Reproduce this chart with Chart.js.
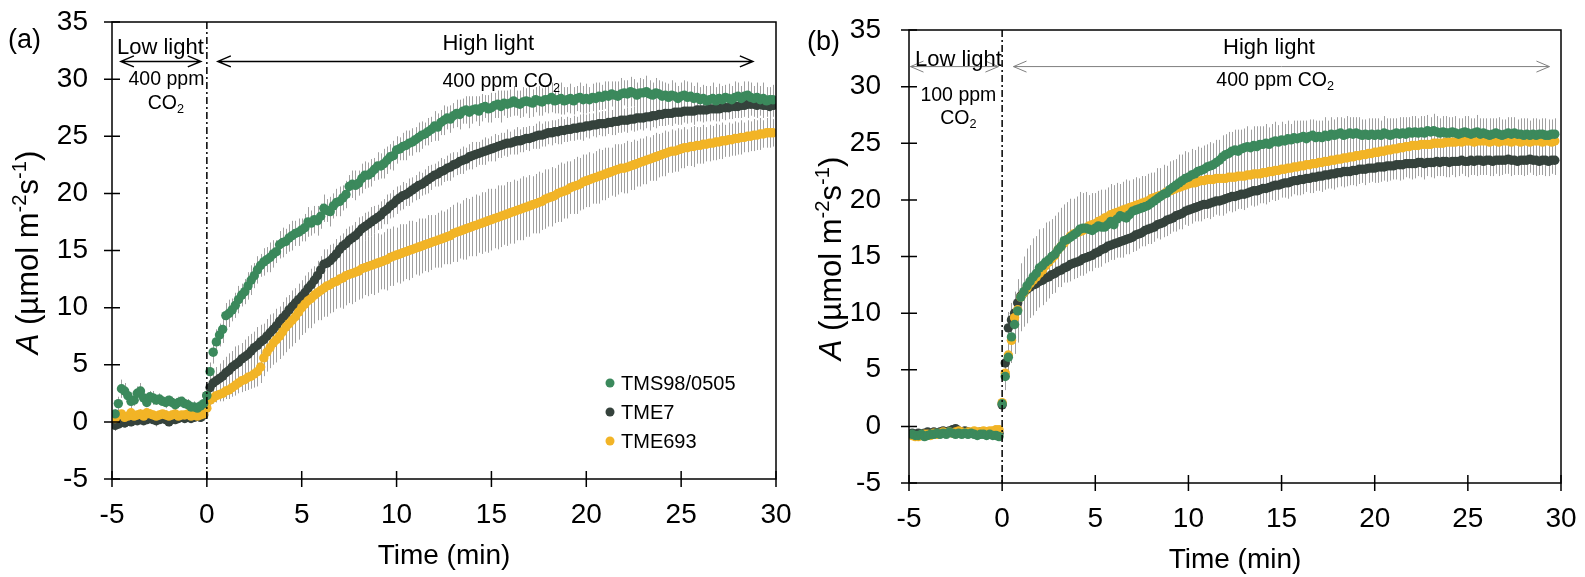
<!DOCTYPE html>
<html>
<head>
<meta charset="utf-8">
<script src="https://cdn.jsdelivr.net/npm/chart.js@4.4.0/dist/chart.umd.min.js"></script>
<style>
html,body{margin:0;padding:0;background:#fff;}
#marco{position:relative;width:1585px;height:577px;}
.panel{position:absolute;top:0;height:577px;}
#pa{left:0;width:792px;}
#pb{left:792px;width:793px;}
</style>
</head>
<body>
<div id="marco">
  <div class="panel" id="pa"><canvas id="graficaA" width="792" height="577"></canvas></div>
  <div class="panel" id="pb"><canvas id="graficaB" width="793" height="577"></canvas></div>
</div>
<script>
// lecturas cada 10 s, la primera 290 s antes del cambio a luz alta
var PASO = 1/6;
var INICIO = -29/6;

var nombres = ['TMS98/0505', 'TME7', 'TME693'];
var colores = ['#3b895c', '#35423c', '#f2b426'];
var ticksX = [-5, 0, 5, 10, 15, 20, 25, 30];
var ticksY = [-5, 0, 5, 10, 15, 20, 25, 30, 35];

/* (a) 400 ppm CO2 en luz baja */
var verdeA = [0.7,1.6,2.9,2.7,2.3,1.8,1.9,2.5,2.7,2.1,1.7,2.2,2.1,1.9,2.0,1.8,1.7,1.9,1.7,1.5,1.7,1.8,1.6,1.5,1.3,1.3,1.2,1.4,1.6,
 2.3,4.4,6.1,7.0,7.6,8.1, 9.3,9.5,9.8,10.2,10.7,11.1, 11.4,11.9,12.4,12.8,13.3,13.7, 14.0,14.2,14.4,14.7,14.9,15.5,
 15.7,15.8,16.1,16.3,16.5,16.6, 16.8,17.0,17.5,17.4,17.7,17.6, 18.0,18.7,18.5,18.4,18.9,19.2, 19.3,19.6,19.9,20.6,20.8,20.7,
 20.9,21.3,21.6,21.6,21.8,22.1, 22.4,22.4,22.6,22.9,23.2,23.3, 23.8,23.9,24.1,24.2,24.4,24.5, 24.7,24.9,25.1,25.2,25.4,25.6,
 25.9,25.8,26.2,26.4,26.6,26.5, 26.8,27.0,26.9,27.2,27.3,27.1, 27.3,27.4,27.2,27.5,27.6,27.4, 27.5,27.7,27.8,27.6,27.9,27.8,
 27.9,28.1,27.9,27.8,28.0,28.1, 28.0,27.9,28.2,28.1,28.0,28.2, 28.2,28.4,28.1,28.2,28.3,28.1, 28.2,28.3,28.1,28.3,28.4,28.2,
 28.3,28.2,28.4,28.3,28.5,28.4, 28.6,28.5,28.7,28.6,28.5,28.7, 28.8,28.7,28.9,28.8,28.6,28.8, 28.8,28.9,28.7,28.6,28.8,28.7,
 28.5,28.6,28.4,28.6,28.5,28.3, 28.5,28.6,28.4,28.5,28.3,28.4, 28.2,28.3,28.1,28.2,28.3,28.1, 28.3,28.2,28.4,28.3,28.2,28.4,
 28.5,28.3,28.5,28.6,28.4,28.3, 28.4,28.2,28.3,28.1,28.2,28.2];
var oscuroA = [-0.3,-0.2,0.0,-0.1,0.1,0.0,0.2,0.1,0.2,0.1,0.2,0.3,0.2,0.1,0.2,0.3,0.2,0.0,0.3,0.2,0.3,0.4,0.3,0.4,0.3,0.4,0.5,0.4,0.6,
 2.3,3.0,3.4,3.6,3.8,4.0, 4.3,4.5,4.8,5.0,5.2,5.5, 5.7,5.9,6.2,6.5,6.7,7.0, 7.2,7.5,7.8,8.1,8.4,8.8,
 9.1,9.4,9.8,10.1,10.4,10.7, 11.0,11.3,11.7,12.0,12.4,12.8, 13.3,13.8,13.9,14.1,14.4,14.7, 15.1,15.4,15.6,15.9,16.1,16.3,
 16.6,16.9,17.1,17.3,17.5,17.7, 17.9,18.1,18.4,18.6,18.9,19.1, 19.4,19.6,19.8,19.9,20.1,20.3, 20.5,20.7,20.8,21.0,21.2,21.4,
 21.6,21.7,21.9,22.0,22.2,22.3, 22.5,22.6,22.8,22.9,23.0,23.2, 23.3,23.4,23.5,23.6,23.7,23.8, 23.9,24.0,24.1,24.2,24.3,24.4,
 24.4,24.5,24.6,24.6,24.7,24.8, 24.8,24.9,25.0,25.1,25.1,25.2, 25.3,25.3,25.4,25.4,25.5,25.5, 25.6,25.6,25.7,25.7,25.8,25.8,
 25.9,25.9,26.0,26.0,26.1,26.1, 26.1,26.2,26.2,26.3,26.3,26.4, 26.4,26.4,26.5,26.5,26.6,26.6, 26.6,26.7,26.7,26.8,26.8,26.9,
 26.9,27.0,27.0,27.0,27.1,27.1, 27.1,27.2,27.2,27.2,27.2,27.3, 27.3,27.3,27.3,27.4,27.4,27.4, 27.4,27.5,27.5,27.5,27.6,27.6,
 27.6,27.7,27.7,27.8,27.8,27.8, 27.7,27.8,27.7,27.7,27.6,27.7];
var amarilloA = [0.3,0.6,0.7,0.4,0.5,0.8,0.5,0.6,0.7,0.5,0.8,0.7,0.6,0.5,0.6,0.7,0.6,0.5,0.6,0.7,0.5,0.6,0.6,0.7,0.5,0.6,0.5,0.6,0.7,
 1.2,1.9,2.1,2.3,2.4,2.5, 2.7,2.8,3.0,3.2,3.4,3.6, 3.7,3.9,4.0,4.2,4.4,4.8, 5.6,6.1,6.5,6.9,7.2,7.5,
 7.9,8.3,8.6,8.9,9.2,9.6, 10.0,10.3,10.6,10.8,11.1,11.3, 11.5,11.7,11.9,12.0,12.2,12.3, 12.5,12.6,12.8,12.9,13.0,13.1,
 13.2,13.4,13.5,13.6,13.7,13.8, 13.9,14.0,14.1,14.2,14.4,14.5, 14.6,14.7,14.8,14.9,15.0,15.1, 15.2,15.3,15.4,15.5,15.6,15.7,
 15.8,15.9,16.0,16.1,16.2,16.3, 16.5,16.6,16.7,16.8,16.9,17.0, 17.1,17.2,17.3,17.4,17.5,17.6, 17.7,17.8,17.9,18.0,18.1,18.2,
 18.3,18.4,18.5,18.6,18.7,18.8, 18.9,19.0,19.1,19.2,19.3,19.5, 19.6,19.7,19.8,20.0,20.1,20.2, 20.3,20.5,20.6,20.7,20.8,21.0,
 21.1,21.2,21.3,21.4,21.5,21.6, 21.7,21.8,21.9,22.0,22.1,22.2, 22.2,22.3,22.4,22.5,22.6,22.7, 22.8,22.9,23.0,23.1,23.2,23.3,
 23.4,23.5,23.6,23.7,23.7,23.8, 23.9,24.0,24.0,24.1,24.1,24.2, 24.2,24.3,24.3,24.4,24.4,24.5, 24.5,24.6,24.6,24.7,24.7,24.8,
 24.8,24.9,24.9,25.0,25.0,25.1, 25.1,25.2,25.2,25.3,25.3,25.3];

var errVerdeA = [0.4,0.6,0.8,0.7,0.5,0.6,0.5,0.6,0.7,0.5,0.4,0.5,0.6,0.4,0.5,0.4,0.5,0.4,0.5,0.4,0.5,0.4,0.4,0.5,0.4,0.5,0.4,0.4,0.5,
 0.5,0.8,1.0,1.1,1.0,1.2, 1.1,1.2,1.0,1.1,1.2,1.0, 1.1,1.2,1.3,1.1,1.2,1.0, 1.2,1.1,1.3,1.2,1.0,1.2,
 1.3,1.1,1.2,1.3,1.1,1.2, 1.0,1.2,1.3,1.1,1.2,1.3, 1.1,1.2,1.0,1.3,1.1,1.2, 1.3,1.1,1.2,1.0,1.2,1.3,
 1.1,1.3,1.2,1.1,1.2,1.0, 1.2,1.1,1.3,1.2,1.1,1.3, 1.2,1.0,1.2,1.3,1.1,1.2, 1.1,1.3,1.2,1.0,1.2,1.1,
 1.3,1.2,1.1,1.3,1.0,1.2, 1.1,1.2,1.3,1.1,1.2,1.4, 1.2,1.1,1.3,1.2,1.0,1.2, 1.3,1.1,1.2,1.4,1.1,1.2,
 1.2,1.3,1.1,1.2,1.3,1.1, 1.4,1.2,1.1,1.3,1.2,1.1, 1.2,1.3,1.1,1.2,1.4,1.2, 1.1,1.3,1.2,1.1,1.3,1.2,
 1.3,1.1,1.2,1.4,1.2,1.1, 1.2,1.3,1.1,1.2,1.3,1.4, 1.1,1.2,1.3,1.2,1.1,1.3, 1.2,1.4,1.2,1.1,1.3,1.2,
 1.3,1.1,1.2,1.3,1.2,1.1, 1.2,1.3,1.4,1.2,1.1,1.3, 1.1,1.2,1.3,1.2,1.4,1.2, 1.3,1.2,1.1,1.3,1.2,1.4,
 1.2,1.1,1.3,1.2,1.3,1.1, 1.3,1.2,1.4,1.2,1.1,1.3];
var errOscuroA = [0.5,0.4,0.5,0.4,0.3,0.4,0.5,0.3,0.4,0.3,0.4,0.3,0.4,0.5,0.3,0.4,0.3,0.4,0.3,0.4,0.3,0.4,0.3,0.4,0.3,0.4,0.3,0.4,0.5,
 0.6,0.9,1.1,1.2,1.3,1.4, 1.4,1.5,1.4,1.6,1.5,1.4, 1.5,1.6,1.5,1.4,1.6,1.5, 1.4,1.5,1.6,1.4,1.5,1.3,
 1.4,1.5,1.3,1.4,1.3,1.4, 1.3,1.2,1.4,1.3,1.2,1.3, 1.2,1.3,1.2,1.4,1.2,1.3, 1.2,1.1,1.3,1.2,1.1,1.2,
 1.3,1.1,1.2,1.1,1.3,1.2, 1.1,1.2,1.1,1.3,1.1,1.2, 1.2,1.1,1.2,1.0,1.2,1.1, 1.1,1.2,1.0,1.1,1.2,1.1,
 1.0,1.1,1.2,1.0,1.1,1.2, 1.1,1.0,1.1,1.2,1.0,1.1, 1.2,1.1,1.0,1.1,1.2,1.0, 1.1,1.2,1.0,1.1,1.0,1.2,
 1.0,1.1,1.2,1.0,1.1,1.0, 1.1,1.0,1.1,1.2,1.0,1.1, 1.0,1.1,1.0,1.1,1.2,1.0, 1.1,1.0,1.1,1.0,1.1,1.2,
 1.0,1.1,1.0,1.1,1.0,1.1, 1.1,1.0,1.1,1.2,1.0,1.1, 1.0,1.1,1.0,1.1,1.1,1.0, 1.1,1.0,1.2,1.0,1.1,1.0,
 1.0,1.1,1.0,1.1,1.0,1.1, 1.1,1.0,1.1,1.0,1.2,1.0, 1.0,1.1,1.0,1.1,1.0,1.1, 1.1,1.0,1.1,1.0,1.1,1.0,
 1.0,1.1,1.0,1.2,1.0,1.1, 1.1,1.0,1.1,1.0,1.1,1.0];
var errAmarilloA = [0.3,0.4,0.3,0.4,0.3,0.3,0.4,0.3,0.4,0.3,0.3,0.4,0.3,0.3,0.4,0.3,0.4,0.3,0.3,0.4,0.3,0.3,0.4,0.3,0.4,0.3,0.3,0.4,0.3,
 0.4,0.5,0.5,0.6,0.6,0.7, 0.7,0.8,0.8,0.9,0.9,1.0, 1.0,1.1,1.1,1.2,1.3,1.4, 1.6,1.7,1.8,1.9,2.0,2.0,
 2.1,2.2,2.2,2.3,2.3,2.4, 2.4,2.5,2.4,2.6,2.5,2.4, 2.6,2.5,2.7,2.5,2.6,2.4, 2.5,2.7,2.6,2.5,2.7,2.6,
 2.5,2.6,2.4,2.6,2.5,2.7, 2.6,2.4,2.5,2.7,2.5,2.6, 2.4,2.6,2.5,2.4,2.6,2.5, 2.3,2.5,2.4,2.3,2.5,2.4,
 2.3,2.4,2.5,2.3,2.4,2.5, 2.5,2.6,2.4,2.6,2.7,2.5, 2.6,2.7,2.5,2.7,2.6,2.8, 2.7,2.6,2.8,2.7,2.6,2.8,
 2.7,2.8,2.6,2.7,2.8,2.6, 2.7,2.5,2.6,2.7,2.5,2.6, 2.5,2.6,2.4,2.5,2.6,2.4, 2.5,2.3,2.4,2.5,2.3,2.4,
 2.3,2.4,2.2,2.3,2.4,2.2, 2.3,2.2,2.1,2.3,2.2,2.1, 2.2,2.3,2.1,2.2,2.0,2.1, 2.0,2.1,1.9,2.0,2.1,1.9,
 1.9,2.0,1.8,1.9,1.8,1.9, 1.7,1.8,1.6,1.7,1.8,1.6, 1.6,1.7,1.5,1.6,1.5,1.6, 1.5,1.6,1.4,1.5,1.4,1.5,
 1.4,1.5,1.3,1.4,1.3,1.4, 1.3,1.4,1.2,1.3,1.3,1.2];

/* (b) 100 ppm CO2 en luz baja */
var verdeB = [-0.7,-0.8,-0.8,-0.7,-0.9,-0.8,-0.7,-0.7,-0.6,-0.7,-0.6,-0.7,-0.5,-0.6,-0.7,-0.6,-0.7,-0.6,-0.7,-0.6,-0.7,-0.8,-0.7,-0.7,-0.8,-0.7,-0.8,-0.8,-0.9,
 2.0,4.4,6.1,7.9,9.0,10.2, 11.4,11.9,12.4,12.8,13.2,13.5, 14.0,14.2,14.5,14.7,15.0,15.2, 15.6,15.9,16.4,16.5,16.7,16.9,
 17.1,17.4,17.5,17.5,17.4,17.3, 17.5,17.7,17.6,17.6,17.8,18.1, 17.8,18.3,18.6,18.5,18.4,18.7, 19.0,19.1,19.2,19.3,19.4,19.5,
 19.7,19.9,20.1,20.3,20.5,20.6, 20.9,21.1,21.3,21.5,21.7,21.9, 22.0,22.2,22.3,22.5,22.6,22.7, 22.9,23.0,23.1,23.3,23.5,23.8,
 24.0,24.1,24.3,24.4,24.3,24.5, 24.6,24.7,24.6,24.8,24.7,24.9, 24.9,25.0,24.9,25.1,25.2,25.1, 25.3,25.2,25.4,25.3,25.5,25.4,
 25.5,25.6,25.4,25.6,25.7,25.5, 25.6,25.5,25.7,25.6,25.8,25.7, 25.8,25.9,25.7,25.8,25.9,25.8, 25.9,25.8,25.7,25.8,25.7,25.8,
 25.7,25.8,25.7,25.9,25.8,25.7, 25.8,25.9,25.8,25.9,25.8,26.0, 25.9,26.0,25.9,26.0,25.9,26.1, 26.0,26.1,26.0,25.9,26.0,25.9,
 25.9,26.0,25.9,25.8,25.9,26.0, 25.9,25.8,25.9,26.0,25.8,25.9, 25.8,25.7,25.8,25.9,25.8,25.7, 25.8,25.9,25.8,25.9,25.8,25.8,
 25.7,25.8,25.7,25.8,25.7,25.8, 25.8,25.7,25.7,25.8,25.8];
var oscuroB = [-0.6,-0.7,-0.6,-0.7,-0.6,-0.5,-0.6,-0.5,-0.6,-0.5,-0.4,-0.5,-0.4,-0.3,-0.2,-0.4,-0.5,-0.4,-0.5,-0.6,-0.5,-0.6,-0.5,-0.6,-0.5,-0.6,-0.5,-0.6,-0.6,
 1.9,5.6,8.7,9.4,10.0,10.9, 11.5,11.8,12.1,12.3,12.5,12.6, 12.8,12.9,13.1,13.2,13.4,13.5, 13.7,13.8,14.0,14.1,14.3,14.4,
 14.5,14.6,14.8,14.9,15.0,15.1, 15.3,15.4,15.6,15.7,15.9,16.0, 16.1,16.2,16.3,16.4,16.5,16.6, 16.7,16.9,17.0,17.1,17.3,17.4,
 17.5,17.6,17.8,17.9,18.0,18.2, 18.3,18.4,18.6,18.7,18.8,19.0, 19.1,19.2,19.3,19.4,19.5,19.6, 19.6,19.7,19.8,19.9,19.9,20.0,
 20.1,20.2,20.3,20.3,20.4,20.5, 20.5,20.6,20.7,20.8,20.8,20.9, 21.0,21.0,21.1,21.2,21.3,21.3, 21.4,21.5,21.5,21.6,21.7,21.7,
 21.8,21.8,21.9,21.9,22.0,22.0, 22.1,22.1,22.2,22.2,22.3,22.3, 22.4,22.4,22.5,22.5,22.5,22.6, 22.6,22.7,22.7,22.7,22.8,22.8,
 22.8,22.9,22.9,22.9,23.0,23.0, 23.0,23.1,23.1,23.1,23.2,23.2, 23.2,23.2,23.3,23.3,23.2,23.3, 23.3,23.3,23.4,23.3,23.4,23.4,
 23.3,23.4,23.4,23.4,23.5,23.4, 23.4,23.5,23.4,23.5,23.5,23.4, 23.5,23.5,23.4,23.5,23.5,23.5, 23.5,23.6,23.5,23.5,23.4,23.5,
 23.5,23.5,23.6,23.5,23.5,23.4, 23.5,23.5,23.4,23.5,23.5];
var amarilloB = [-0.8,-0.9,-0.9,-0.8,-0.7,-0.7,-0.8,-0.6,-0.7,-0.6,-0.5,-0.6,-0.5,-0.6,-0.5,-0.4,-0.5,-0.6,-0.5,-0.5,-0.4,-0.5,-0.5,-0.4,-0.5,-0.4,-0.4,-0.3,-0.3,
 2.1,4.7,6.3,7.6,9.6,10.3, 11.4,11.8,12.2,12.6,12.9,13.2, 13.5,13.8,14.2,14.5,14.8,15.1, 15.6,15.9,16.2,16.5,16.8,17.0,
 17.1,17.2,17.3,17.5,17.7,17.8, 17.9,18.1,18.2,18.4,18.5,18.7, 18.8,18.9,19.0,19.1,19.2,19.3, 19.4,19.5,19.6,19.7,19.8,19.9,
 20.1,20.2,20.3,20.4,20.5,20.7, 20.8,20.9,21.0,21.1,21.2,21.3, 21.4,21.5,21.5,21.6,21.7,21.7, 21.8,21.8,21.8,21.9,21.9,21.9,
 21.9,22.0,22.0,22.0,22.1,22.1, 22.1,22.2,22.2,22.3,22.3,22.3, 22.4,22.4,22.5,22.5,22.6,22.6, 22.7,22.7,22.8,22.8,22.9,22.9,
 23.0,23.0,23.1,23.1,23.2,23.2, 23.3,23.3,23.4,23.4,23.5,23.5, 23.6,23.6,23.7,23.7,23.8,23.8, 23.9,23.9,24.0,24.0,24.1,24.1,
 24.2,24.2,24.3,24.3,24.4,24.4, 24.5,24.5,24.6,24.6,24.7,24.7, 24.8,24.8,24.8,24.9,24.9,24.9, 24.9,25.0,25.0,25.0,25.0,25.1,
 25.1,25.1,25.1,25.2,25.1,25.2, 25.2,25.2,25.1,25.2,25.2,25.2, 25.2,25.1,25.2,25.2,25.1,25.2, 25.2,25.2,25.1,25.2,25.2,25.1,
 25.2,25.2,25.1,25.2,25.2,25.2, 25.1,25.2,25.2,25.1,25.2];

var errVerdeB = [0.2,0.3,0.2,0.3,0.2,0.3,0.3,0.2,0.3,0.2,0.3,0.2,0.3,0.2,0.3,0.2,0.3,0.2,0.2,0.3,0.2,0.3,0.2,0.3,0.2,0.3,0.2,0.3,0.3,
 0.4,1.2,1.8,2.3,2.6,2.8, 3.0,3.1,3.3,3.2,3.4,3.3, 3.4,3.3,3.5,3.4,3.3,3.4, 3.3,3.4,3.2,3.3,3.4,3.2,
 3.2,3.3,3.1,3.2,3.0,3.1, 3.0,3.1,2.9,3.0,3.1,2.9, 2.9,3.0,2.8,2.9,2.8,2.7, 2.8,2.7,2.6,2.8,2.6,2.7,
 2.6,2.5,2.7,2.5,2.6,2.4, 2.5,2.4,2.3,2.5,2.3,2.4, 2.2,2.3,2.1,2.2,2.0,2.1, 2.0,2.1,1.9,2.0,1.8,1.9,
 1.8,1.9,1.7,1.8,1.9,1.7, 1.7,1.8,1.6,1.7,1.8,1.6, 1.6,1.7,1.5,1.6,1.7,1.5, 1.6,1.5,1.6,1.4,1.5,1.6,
 1.5,1.4,1.6,1.5,1.4,1.5, 1.4,1.5,1.6,1.4,1.5,1.4, 1.5,1.4,1.5,1.6,1.4,1.5, 1.4,1.5,1.4,1.3,1.5,1.4,
 1.5,1.4,1.3,1.5,1.4,1.5, 1.4,1.3,1.5,1.4,1.5,1.3, 1.5,1.4,1.3,1.4,1.5,1.4, 1.3,1.5,1.4,1.3,1.4,1.5,
 1.4,1.3,1.5,1.4,1.3,1.4, 1.5,1.4,1.3,1.5,1.4,1.3, 1.4,1.5,1.4,1.3,1.5,1.4, 1.3,1.4,1.5,1.4,1.3,1.4,
 1.5,1.4,1.3,1.4,1.5,1.3, 1.4,1.5,1.4,1.3,1.4];
var errOscuroB = [0.3,0.2,0.3,0.2,0.3,0.3,0.2,0.3,0.2,0.3,0.2,0.3,0.3,0.2,0.3,0.2,0.3,0.2,0.3,0.3,0.2,0.3,0.2,0.3,0.2,0.3,0.2,0.3,0.2,
 0.4,1.0,1.4,1.5,1.5,1.6, 1.6,1.5,1.6,1.4,1.5,1.6, 1.5,1.4,1.5,1.6,1.4,1.5, 1.4,1.5,1.3,1.4,1.5,1.4,
 1.4,1.3,1.5,1.4,1.3,1.4, 1.3,1.4,1.5,1.3,1.4,1.3, 1.4,1.3,1.4,1.5,1.3,1.4, 1.3,1.4,1.3,1.2,1.4,1.3,
 1.4,1.3,1.2,1.4,1.3,1.4, 1.3,1.2,1.4,1.3,1.4,1.2, 1.4,1.3,1.2,1.3,1.4,1.3, 1.2,1.4,1.3,1.2,1.3,1.4,
 1.3,1.2,1.4,1.3,1.2,1.3, 1.4,1.3,1.2,1.4,1.3,1.2, 1.3,1.4,1.3,1.2,1.4,1.3, 1.2,1.3,1.4,1.3,1.2,1.3,
 1.4,1.3,1.2,1.3,1.4,1.2, 1.3,1.4,1.3,1.2,1.3,1.4, 1.3,1.2,1.4,1.3,1.2,1.3, 1.4,1.3,1.2,1.4,1.3,1.2,
 1.3,1.4,1.3,1.2,1.4,1.3, 1.2,1.3,1.4,1.3,1.2,1.3, 1.4,1.3,1.2,1.3,1.4,1.2, 1.3,1.4,1.3,1.2,1.3,1.4,
 1.3,1.2,1.4,1.3,1.2,1.3, 1.4,1.3,1.2,1.4,1.3,1.2, 1.3,1.4,1.3,1.2,1.4,1.3, 1.2,1.3,1.4,1.3,1.2,1.3,
 1.4,1.3,1.2,1.3,1.4,1.2, 1.3,1.4,1.3,1.2,1.3];
var errAmarilloB = [0.3,0.2,0.3,0.3,0.2,0.3,0.2,0.3,0.2,0.3,0.3,0.2,0.3,0.2,0.3,0.2,0.3,0.3,0.2,0.3,0.2,0.3,0.2,0.3,0.3,0.2,0.3,0.2,0.3,
 0.4,1.0,1.6,2.0,2.3,2.5, 2.7,2.8,2.9,3.0,2.9,3.0, 3.0,3.1,2.9,3.0,3.1,3.0, 2.9,3.0,2.8,2.9,3.0,2.8,
 2.8,2.9,2.7,2.8,2.7,2.8, 2.7,2.6,2.7,2.5,2.6,2.7, 2.5,2.6,2.4,2.5,2.6,2.4, 2.4,2.5,2.3,2.4,2.3,2.4,
 2.3,2.2,2.3,2.1,2.2,2.3, 2.1,2.2,2.0,2.1,2.2,2.0, 2.0,2.1,1.9,2.0,1.9,2.0, 1.9,1.8,1.9,1.7,1.8,1.9,
 1.7,1.8,1.6,1.7,1.8,1.6, 1.6,1.7,1.5,1.6,1.7,1.5, 1.5,1.6,1.4,1.5,1.6,1.4, 1.5,1.4,1.5,1.3,1.4,1.5,
 1.4,1.3,1.5,1.4,1.3,1.4, 1.3,1.4,1.5,1.3,1.4,1.3, 1.4,1.3,1.4,1.5,1.3,1.4, 1.3,1.4,1.3,1.2,1.4,1.3,
 1.4,1.3,1.2,1.4,1.3,1.4, 1.3,1.2,1.4,1.3,1.4,1.2, 1.4,1.3,1.2,1.3,1.4,1.3, 1.2,1.4,1.3,1.2,1.3,1.4,
 1.3,1.2,1.4,1.3,1.2,1.3, 1.4,1.3,1.2,1.4,1.3,1.2, 1.3,1.4,1.3,1.2,1.4,1.3, 1.2,1.3,1.4,1.3,1.2,1.3,
 1.4,1.3,1.2,1.3,1.4,1.2, 1.3,1.4,1.3,1.2,1.3];

var FUENTE = '"Liberation Sans", Arial, sans-serif';

function tiempos(n){
    var t = [];
    for(var i=0;i<n;i++){ t.push(INICIO + i*PASO); }
    return t;
}

function serie(indice, valores, errores, orden){
    var t = tiempos(valores.length);
    return {
        label: nombres[indice],
        data: valores.map(function(v,i){ return {x:t[i], y:v}; }),
        errores: errores,
        backgroundColor: colores[indice],
        borderWidth: 0,
        pointRadius: 4.7,
        pointHoverRadius: 4.7,
        showLine: false,
        order: orden
    };
}

// texto con sub/superindices: partes = [{t, sub, sup, it}]
function fuenteParte(p, tam){
    var s = (p.sub || p.sup) ? tam*0.65 : tam;
    return (p.it ? 'italic ' : '') + s + 'px ' + FUENTE;
}
function anchoPartes(ctx, partes, tam){
    var w = 0;
    partes.forEach(function(p){ ctx.font = fuenteParte(p, tam); w += ctx.measureText(p.t).width; });
    return w;
}
function escribir(ctx, partes, x, y, tam, alinear){
    var cx = alinear === 'center' ? x - anchoPartes(ctx, partes, tam)/2 : x;
    ctx.textAlign = 'left';
    ctx.textBaseline = 'alphabetic';
    ctx.fillStyle = '#000';
    partes.forEach(function(p){
        ctx.font = fuenteParte(p, tam);
        var dy = p.sub ? tam*0.22 : (p.sup ? -tam*0.4 : 0);
        ctx.fillText(p.t, cx, y + dy);
        cx += ctx.measureText(p.t).width;
    });
}

function flecha(ctx, x1, x2, y, color, grosor){
    ctx.save();
    ctx.strokeStyle = color;
    ctx.lineWidth = grosor;
    ctx.beginPath();
    ctx.moveTo(x1, y); ctx.lineTo(x2, y);
    ctx.moveTo(x1+13, y-5.5); ctx.lineTo(x1, y); ctx.lineTo(x1+13, y+5.5);
    ctx.moveTo(x2-13, y-5.5); ctx.lineTo(x2, y); ctx.lineTo(x2-13, y+5.5);
    ctx.stroke();
    ctx.restore();
}

var pluginPanel = {
    id: 'panel',
    beforeDatasetsDraw: function(chart){
        var ctx = chart.ctx, xs = chart.scales.x, ys = chart.scales.y, a = chart.chartArea;
        ctx.save();
        ctx.beginPath();
        ctx.rect(a.left, a.top, a.right - a.left, a.bottom - a.top);
        ctx.clip();
        ctx.strokeStyle = '#a0a0a0';
        ctx.lineWidth = 1;
        chart.data.datasets.forEach(function(ds){
            ctx.beginPath();
            ds.data.forEach(function(p, i){
                var e = ds.errores[i] || 0;
                var px = Math.round(xs.getPixelForValue(p.x)) + 0.5;
                ctx.moveTo(px, ys.getPixelForValue(p.y + e));
                ctx.lineTo(px, ys.getPixelForValue(p.y - e));
            });
            ctx.stroke();
        });
        ctx.restore();
    },
    afterDraw: function(chart, args, op){
        var ctx = chart.ctx, xs = chart.scales.x, ys = chart.scales.y, a = chart.chartArea;
        ctx.save();
        // marco y marcas que cruzan el eje
        ctx.strokeStyle = '#000';
        ctx.lineWidth = 1.5;
        ctx.strokeRect(a.left, a.top, a.right - a.left, a.bottom - a.top);
        ctx.beginPath();
        ticksY.forEach(function(v){
            var py = ys.getPixelForValue(v);
            ctx.moveTo(a.left - 8, py); ctx.lineTo(a.left + 8, py);
        });
        ticksX.forEach(function(v){
            var px = xs.getPixelForValue(v);
            ctx.moveTo(px, a.bottom - 8); ctx.lineTo(px, a.bottom + 8);
        });
        ctx.stroke();

        // linea punto-raya en t = 0
        var x0 = xs.getPixelForValue(0);
        ctx.setLineDash([7, 3, 2, 3]);
        ctx.beginPath();
        ctx.moveTo(x0, a.top); ctx.lineTo(x0, a.bottom);
        ctx.stroke();
        ctx.setLineDash([]);

        // flechas y notas de luz / CO2
        op.flechas.forEach(function(f){
            flecha(ctx, xs.getPixelForValue(f.x1), xs.getPixelForValue(f.x2), ys.getPixelForValue(f.y), op.colorFlecha, op.grosorFlecha);
        });
        op.notas.forEach(function(n){
            escribir(ctx, n.partes, xs.getPixelForValue(n.x), ys.getPixelForValue(n.y), n.tam, n.al);
        });

        // titulos de ejes
        escribir(ctx, [{t:'Time (min)'}], (a.left + a.right)/2, a.bottom + 85, 28, 'center');
        ctx.save();
        ctx.translate(a.left - op.distTituloY, (a.top + a.bottom)/2 + 2);
        ctx.rotate(-Math.PI/2);
        escribir(ctx, [{t:'A', it:1}, {t:' (µmol m'}, {t:'-2', sup:1}, {t:'s'}, {t:'-1', sup:1}, {t:')'}], 0, 0, 31, 'center');
        ctx.restore();

        escribir(ctx, [{t:op.etiqueta}], op.etqX, op.etqY, 27, 'left');

        if(op.leyenda){
            nombres.forEach(function(nom, i){
                var py = 383 + i*29;
                ctx.fillStyle = colores[i];
                ctx.beginPath();
                ctx.arc(610, py, 4.5, 0, Math.PI*2);
                ctx.fill();
                ctx.font = '20px ' + FUENTE;
                ctx.fillStyle = '#000';
                ctx.textAlign = 'left';
                ctx.textBaseline = 'middle';
                ctx.fillText(nom, 621, py + 1);
            });
        }
        ctx.restore();
    }
};

// sin relleno automatico de las escalas: el area del grafico queda donde se pide
function sinRelleno(s){
    s.paddingLeft = 0; s.paddingRight = 0; s.paddingTop = 0; s.paddingBottom = 0;
}

function opciones(cfg){
    return {
        responsive: false,
        animation: false,
        events: [],
        layout: { padding: { left: 0, top: cfg.arriba, right: cfg.derecha, bottom: 0 } },
        plugins: { legend: { display: false }, tooltip: { enabled: false }, panel: cfg },
        scales: {
            x: {
                type: 'linear', min: -5, max: 30,
                afterFit: function(s){ s.height = cfg.altoX; sinRelleno(s); },
                grid: { display: false, drawTicks: false },
                border: { display: false },
                ticks: { stepSize: 5, color: '#000', padding: cfg.padX, maxRotation: 0, autoSkip: false,
                         font: { family: FUENTE, size: 28 } }
            },
            y: {
                min: -5, max: 35,
                afterFit: function(s){ s.width = cfg.anchoY; sinRelleno(s); },
                grid: { display: false, drawTicks: false },
                border: { display: false },
                ticks: { stepSize: 5, color: '#000', padding: cfg.padY,
                         font: { family: FUENTE, size: 28 } }
            }
        }
    };
}

var cfgA = {
    arriba: 22, derecha: 16, anchoY: 112, altoX: 98, padX: 19, padY: 24,
    distTituloY: 74, etiqueta: '(a)', etqX: 8, etqY: 48, leyenda: true,
    colorFlecha: '#000', grosorFlecha: 1.5,
    flechas: [{x1:-4.53, x2:-0.32, y:31.55}, {x1:0.58, x2:28.78, y:31.55}],
    notas: [
        {partes:[{t:'Low light'}], x:-2.45, y:32.2, tam:22, al:'center'},
        {partes:[{t:'400 ppm'}], x:-2.13, y:29.45, tam:19.5, al:'center'},
        {partes:[{t:'CO'},{t:'2',sub:1}], x:-2.16, y:27.4, tam:19.5, al:'center'},
        {partes:[{t:'High light'}], x:12.42, y:32.58, tam:22, al:'left'},
        {partes:[{t:'400 ppm CO'},{t:'2',sub:1}], x:12.42, y:29.29, tam:19.5, al:'left'}
    ]
};
var cfgB = {
    arriba: 30, derecha: 24, anchoY: 117, altoX: 94, padX: 19, padY: 28,
    distTituloY: 68, etiqueta: '(b)', etqX: 15, etqY: 50, leyenda: false,
    colorFlecha: '#7f7f7f', grosorFlecha: 1,
    flechas: [{x1:-4.92, x2:-0.2, y:31.77}, {x1:0.61, x2:29.38, y:31.77}],
    notas: [
        {partes:[{t:'Low light'}], x:-2.35, y:31.84, tam:22, al:'center'},
        {partes:[{t:'100 ppm'}], x:-2.35, y:28.75, tam:19.5, al:'center'},
        {partes:[{t:'CO'},{t:'2',sub:1}], x:-2.35, y:26.72, tam:19.5, al:'center'},
        {partes:[{t:'High light'}], x:11.86, y:32.9, tam:22, al:'left'},
        {partes:[{t:'400 ppm CO'},{t:'2',sub:1}], x:11.5, y:30.07, tam:19.5, al:'left'}
    ]
};

new Chart(document.getElementById('graficaA').getContext('2d'), {
    type: 'scatter',
    data: { datasets: [
        serie(0, verdeA, errVerdeA, 0),
        serie(1, oscuroA, errOscuroA, 2),
        serie(2, amarilloA, errAmarilloA, 1)
    ] },
    options: opciones(cfgA),
    plugins: [pluginPanel]
});

new Chart(document.getElementById('graficaB').getContext('2d'), {
    type: 'scatter',
    data: { datasets: [
        serie(0, verdeB, errVerdeB, 0),
        serie(1, oscuroB, errOscuroB, 2),
        serie(2, amarilloB, errAmarilloB, 1)
    ] },
    options: opciones(cfgB),
    plugins: [pluginPanel]
});
</script>
</body>
</html>
